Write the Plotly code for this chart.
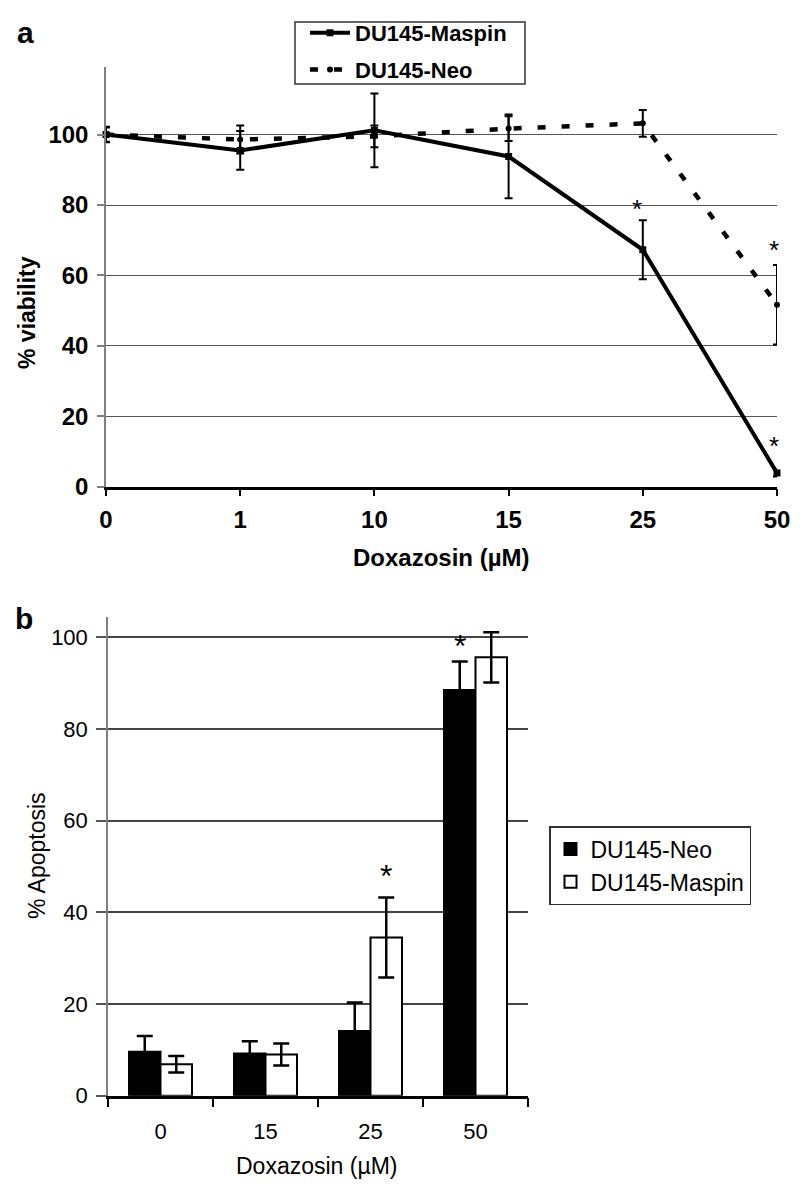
import plotly.graph_objects as go

# ---------------- data ----------------
dose_a = ["0", "1", "10", "15", "25", "50"]
maspin_via = [100, 95.5, 101.2, 93.8, 67.3, 3.9]
maspin_via_err = [2.2, 5.5, 10.5, 11.9, 8.4, 1.0]
neo_via = [100, 98.6, 99.5, 101.7, 103.2, 51.7]
neo_via_err = [2.0, 4.0, 3.1, 3.5, 3.8, 11.3]

dose_b = ["0", "15", "25", "50"]
neo_apop = [9.6, 9.2, 14.1, 88.5]
neo_apop_err = [3.4, 2.7, 6.2, 6.2]
maspin_apop = [6.85, 9.0, 34.5, 95.6]
maspin_apop_err = [1.8, 2.4, 8.7, 5.5]

# significance markers (category, y of star, x offset px)
stars_a = [("25", 80.5, -6), ("50", 68.8, -3), ("50", 13.2, -3)]
stars_b = [("25", 49.5, 15.75), ("50", 99.6, -15.75), ("50", 105.4, 15.75)]

# page has an 8px body margin: figure occupies page pixels 8..800 / 8..1185
OFF = 8
W, H = 800 - OFF, 1185 - OFF
FONT = "Liberation Sans, Arial, sans-serif"


def px(x):
    return (x - OFF) / W


def py(y):
    return 1 - (y - OFF) / H


fig = go.Figure()

fig.add_trace(go.Scatter(
    x=dose_a, y=maspin_via, name="DU145-Maspin", mode="lines+markers",
    line=dict(color="black", width=4),
    marker=dict(symbol="square", size=7, color="black"),
    error_y=dict(type="data", array=maspin_via_err, color="black", thickness=2, width=4),
    xaxis="x", yaxis="y", cliponaxis=False, legend="legend", legendgroup="m",
))
fig.add_trace(go.Scatter(
    x=dose_a, y=neo_via, name="DU145-Neo", mode="lines+markers",
    line=dict(color="black", width=4.5, dash="8px,16px"),
    marker=dict(symbol="circle", size=6, color="black"),
    error_y=dict(type="data", array=neo_via_err, color="black", thickness=2, width=4),
    xaxis="x", yaxis="y", cliponaxis=False, legend="legend", legendgroup="n",
))

fig.add_trace(go.Bar(
    x=dose_b, y=neo_apop, name="DU145-Neo",
    marker=dict(color="black", line=dict(color="black", width=2)),
    error_y=dict(type="data", array=neo_apop_err, color="black", thickness=2.5, width=8),
    xaxis="x2", yaxis="y2", legend="legend2", legendgroup="bn",
))
fig.add_trace(go.Bar(
    x=dose_b, y=maspin_apop, name="DU145-Maspin",
    marker=dict(color="white", line=dict(color="black", width=2)),
    error_y=dict(type="data", array=maspin_apop_err, color="black", thickness=2.5, width=8),
    xaxis="x2", yaxis="y2", legend="legend2", legendgroup="bm",
))

annotations = []
for cat, yv, xs in stars_a:
    annotations.append(dict(x=dose_a.index(cat), y=yv, xref="x", yref="y", text="*", showarrow=False,
                            xshift=xs, yshift=-0.22 * 26, yanchor="middle",
                            font=dict(family=FONT, size=26, color="black")))
for cat, yv, xs in stars_b:
    annotations.append(dict(x=dose_b.index(cat), y=yv, xref="x2", yref="y2", text="*", showarrow=False,
                            xshift=xs, yshift=-0.22 * 32, yanchor="middle",
                            font=dict(family=FONT, size=32, color="black")))

# panel labels and axis titles
annotations += [
    dict(x=px(25), y=py(33), xref="paper", yref="paper", text="<b>a</b>", showarrow=False,
         xanchor="center", yanchor="middle", font=dict(family=FONT, size=30, color="black")),
    dict(x=px(24), y=py(618), xref="paper", yref="paper", text="<b>b</b>", showarrow=False,
         xanchor="center", yanchor="middle", font=dict(family=FONT, size=30, color="black")),
    dict(x=px(27), y=py(313), xref="paper", yref="paper", text="<b>% viability</b>", showarrow=False,
         textangle=-90, xanchor="center", yanchor="middle", font=dict(family=FONT, size=23, color="black")),
    dict(x=px(441), y=py(557), xref="paper", yref="paper", text="<b>Doxazosin (µM)</b>", showarrow=False,
         xanchor="center", yanchor="middle", font=dict(family=FONT, size=24, color="black")),
    dict(x=px(37), y=py(856), xref="paper", yref="paper", text="% Apoptosis", showarrow=False,
         textangle=-90, xanchor="center", yanchor="middle", font=dict(family=FONT, size=23, color="black")),
    dict(x=px(317), y=py(1166), xref="paper", yref="paper", text="Doxazosin (µM)", showarrow=False,
         xanchor="center", yanchor="middle", font=dict(family=FONT, size=23, color="black")),
]

# legend frame for panel a
shapes = [
    dict(type="rect", xref="paper", yref="paper", x0=px(295), x1=px(525), y0=py(84), y1=py(22),
         line=dict(color="#333333", width=1.5), fillcolor="white", layer="above"),
]

fig.update_layout(
    width=W, height=H,
    margin=dict(l=0, r=0, t=0, b=0, autoexpand=False),
    paper_bgcolor="white", plot_bgcolor="white",
    font=dict(family=FONT, color="black"),
    barmode="group", bargap=0.4, bargroupgap=0,
    xaxis=dict(
        domain=[px(106), px(777)], anchor="y", type="category",
        range=[0, 5], showline=True, linecolor="black", linewidth=2.5,
        ticks="outside", ticklen=7, tickwidth=1.5, tickcolor="black",
        ticklabelstandoff=3,
        tickfont=dict(family=FONT, size=24, color="black", weight="bold"),
        showgrid=False, zeroline=False, automargin=False,
    ),
    yaxis=dict(
        domain=[py(486.7), py(67)], anchor="x",
        range=[0, 119.2], tickvals=[0, 20, 40, 60, 80, 100],
        showline=True, linecolor="#808080", linewidth=1.5,
        ticks="outside", ticklen=7, tickwidth=1.5, tickcolor="#808080",
        ticklabelstandoff=4,
        tickfont=dict(family=FONT, size=24, color="black", weight="bold"),
        showgrid=True, gridcolor="#555555", gridwidth=1, zeroline=False, automargin=False,
    ),
    xaxis2=dict(
        domain=[px(108), px(528)], anchor="y2", type="category",
        range=[-0.5, 3.5], showline=True, linecolor="black", linewidth=2.5,
        ticks="outside", ticklen=9, tickwidth=1.5, tickcolor="black", tickson="boundaries",
        ticklabelstandoff=14,
        tickfont=dict(family=FONT, size=22, color="black"), tickangle=0,
        showgrid=False, zeroline=False, automargin=False,
    ),
    yaxis2=dict(
        domain=[py(1095.7), py(617)], anchor="x2",
        range=[0, 104.4], tickvals=[0, 20, 40, 60, 80, 100],
        showline=True, linecolor="#808080", linewidth=1.5,
        ticks="outside", ticklen=10, tickwidth=1.5, tickcolor="#555555",
        ticklabelstandoff=4,
        tickfont=dict(family=FONT, size=22, color="black"),
        showgrid=True, gridcolor="#444444", gridwidth=1.5, zeroline=False, automargin=False,
    ),
    legend=dict(
        x=px(305), y=py(12), xanchor="left", yanchor="top",
        borderwidth=0, bgcolor="rgba(0,0,0,0)",
        font=dict(family=FONT, size=22, color="black", weight="bold"),
        tracegroupgap=5, itemwidth=40,
    ),
    legend2=dict(
        x=px(549), y=py(826), xanchor="left", yanchor="top",
        bordercolor="#333333", borderwidth=1.5, bgcolor="white",
        font=dict(family=FONT, size=23, color="black"),
        traceorder="normal", tracegroupgap=5,
    ),
    shapes=shapes,
    annotations=annotations,
    showlegend=True,
)

fig.write_html("out.html")
